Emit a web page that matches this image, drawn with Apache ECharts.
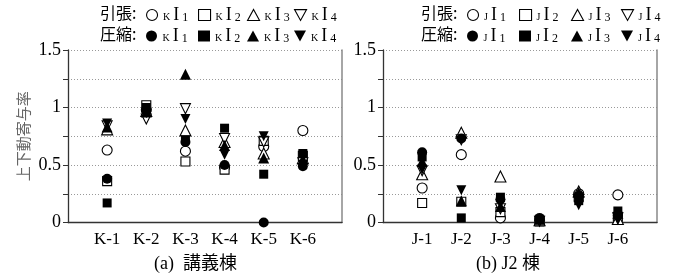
<!DOCTYPE html>
<html>
<head>
<meta charset="utf-8">
<script src="https://cdn.jsdelivr.net/npm/echarts@6/dist/echarts.min.js"></script>
<style>
html,body{margin:0;padding:0;background:#fff;}
#chart{width:680px;height:280px;}
</style>
</head>
<body>
<div id="chart"></div>
<script>

/* ---------- data ---------- */

const kCats=["K-1","K-2","K-3","K-4","K-5","K-6"];
const jCats=["J-1","J-2","J-3","J-4","J-5","J-6"];

// 講義棟  引張 (open) / 圧縮 (filled)
const kT1=[0.63,0.98,0.62,0.48,0.66,0.80];
const kT2=[0.36,1.02,0.53,0.46,0.71,0.58];
const kT3=[0.81,0.97,0.80,0.70,0.60,0.56];
const kT4=[0.84,0.90,0.99,0.73,0.70,0.52];
const kC1=[0.38,0.97,0.70,0.50,0.00,0.49];
const kC2=[0.17,1.00,0.72,0.82,0.42,0.60];
const kC3=[0.83,0.96,1.29,0.67,0.56,0.55];
const kC4=[0.86,0.95,0.90,0.59,0.75,0.50];

// J2 棟
const jT1=[0.30,0.59,0.04,0.02,0.25,0.24];
const jT2=[0.17,0.18,0.09,0.01,0.22,0.05];
const jT3=[0.42,0.78,0.40,0.02,0.27,0.03];
const jT4=[0.45,0.72,0.12,0.01,0.20,0.04];
const jC1=[0.61,0.73,0.20,0.04,0.23,0.06];
const jC2=[0.57,0.04,0.22,0.02,0.19,0.10];
const jC3=[0.53,0.19,0.14,0.03,0.26,0.08];
const jC4=[0.46,0.28,0.16,0.02,0.15,0.02];

const yTicks=[0,0.5,1,1.5];


/* ---------- helpers ---------- */

const SERIF="Liberation Serif";
const CJK="Noto Sans CJK JP";

const shapes=[
  {s:"circle",size:10},
  {s:"rect",size:9},
  {s:"triangle",size:11},
  {s:"path://M0,0L10,0L5,9Z",size:10}
];

function padCats(c){
  return [""].concat(c).concat([""]);
}

function styleOf(filled){
  return {
    color:filled?"#000":"#fff",
    borderColor:"#000",
    borderWidth:filled?0:1.1,
    opacity:1
  };
}

function scat(name,arr,cats,shapeIdx,filled,axis){
  let sh=shapes[shapeIdx];
  return {
    name:name,
    type:"scatter",
    xAxisIndex:axis,
    yAxisIndex:axis*2,
    symbol:sh.s,
    symbolSize:sh.size,
    clip:false,
    itemStyle:styleOf(filled),
    data:arr.map((v,i)=>[cats[i],v])
  };
}

let series=[];
let names={};

[[kT1,kT2,kT3,kT4],[jT1,jT2,jT3,jT4]].forEach((g,ax)=>{
  g.forEach((a,i)=>{
    let nm=(ax?"J":"K")+"引張"+(i+1);
    names[nm]=[ax?"J":"K",i+1];
    series.push(scat(nm,a,ax?jCats:kCats,i,false,ax));
  });
});

[[kC1,kC2,kC3,kC4],[jC1,jC2,jC3,jC4]].forEach((g,ax)=>{
  g.forEach((a,i)=>{
    let nm=(ax?"J":"K")+"圧縮"+(i+1);
    names[nm]=[ax?"J":"K",i+1];
    series.push(scat(nm,a,ax?jCats:kCats,i,true,ax));
  });
});

// one legend per item so that each icon sits where the reference has it
const legendX=[[152,204,253,300],[473,525,577,627]];

function legendItem(pref,kind,i,top){
  let nm=pref+kind+(i+1);
  return {
    left:legendX[pref=="K"?0:1][i]-6,
    top:top,
    padding:0,
    itemGap:0,
    itemWidth:12,
    itemHeight:11,
    data:[{name:nm,icon:shapes[i].s,itemStyle:styleOf(kind=="圧縮")}],
    formatter:n=>`{k|${names[n][0]}}{i|I}{n|${names[n][1]}}`,
    textStyle:{
      color:"#000",
      fontFamily:SERIF,
      rich:{
        k:{fontFamily:SERIF,fontSize:10,padding:[5,3,0,0]},
        i:{fontFamily:SERIF,fontSize:18},
        n:{fontFamily:SERIF,fontSize:12,padding:[5,0,0,3]}
      }
    }
  };
}

let legends=[];
["K","J"].forEach(p=>{
  [0,1,2,3].forEach(i=>{
    legends.push(legendItem(p,"引張",i,6));
    legends.push(legendItem(p,"圧縮",i,27));
  });
});

function yAx(grid){
  return {
    type:"value",
    gridIndex:grid,
    min:0,
    max:1.5,
    interval:0.25,
    axisLine:{show:true,lineStyle:{color:"#333",width:1.3}},
    axisTick:{show:true,length:5,lineStyle:{color:"#333"}},
    axisLabel:{
      fontFamily:SERIF,
      fontSize:18,
      color:"#000",
      margin:7,
      formatter:v=>yTicks.indexOf(v)>=0?String(v):""
    },
    splitLine:{show:true,lineStyle:{color:"#999",type:[1,2],width:1}}
  };
}

function yRight(grid){
  return {
    type:"value",
    gridIndex:grid,
    position:"right",
    min:0,
    max:1.5,
    axisLine:{show:true,lineStyle:{color:"#888",width:1.5}},
    axisTick:{show:false},
    axisLabel:{show:false},
    splitLine:{show:false}
  };
}

function xAx(grid,cats){
  return {
    type:"category",
    gridIndex:grid,
    data:padCats(cats),
    boundaryGap:false,
    axisLine:{lineStyle:{color:"#333",width:1.3}},
    axisTick:{show:false},
    axisLabel:{fontFamily:SERIF,fontSize:17,color:"#000",margin:9,interval:0}
  };
}


/* ---------- chart ---------- */

let chart=echarts.init(document.getElementById("chart"));

let yL=yAx(0);
yL.name="上下動寄与率";
yL.nameLocation="middle";
yL.nameRotate=90;
yL.nameGap=37;
yL.nameTextStyle={fontFamily:CJK,fontSize:15,color:"#666"};

chart.setOption({
  animation:false,
  grid:[
    {left:68,top:50,width:274,height:172.5},
    {left:383,top:50,width:274,height:172.5}
  ],
  xAxis:[xAx(0,kCats),xAx(1,jCats)],
  yAxis:[yL,yRight(0),yAx(1),yRight(1)],
  legend:legends,
  graphic:[
    {type:"text",left:100,top:5,style:{text:"引張:",font:"16px "+CJK,fill:"#000"}},
    {type:"text",left:100,top:26,style:{text:"圧縮:",font:"16px "+CJK,fill:"#000"}},
    {type:"text",left:421,top:5,style:{text:"引張:",font:"16px "+CJK,fill:"#000"}},
    {type:"text",left:421,top:26,style:{text:"圧縮:",font:"16px "+CJK,fill:"#000"}},
    {type:"text",left:154,top:255,style:{text:"(a)  講義棟",font:"18px Liberation Serif, Noto Sans CJK JP",fill:"#000"}},
    {type:"text",left:476,top:255,style:{text:"(b) J2 棟",font:"18px Liberation Serif, Noto Sans CJK JP",fill:"#000"}}
  ],
  series:series
});

</script>
</body>
</html>
